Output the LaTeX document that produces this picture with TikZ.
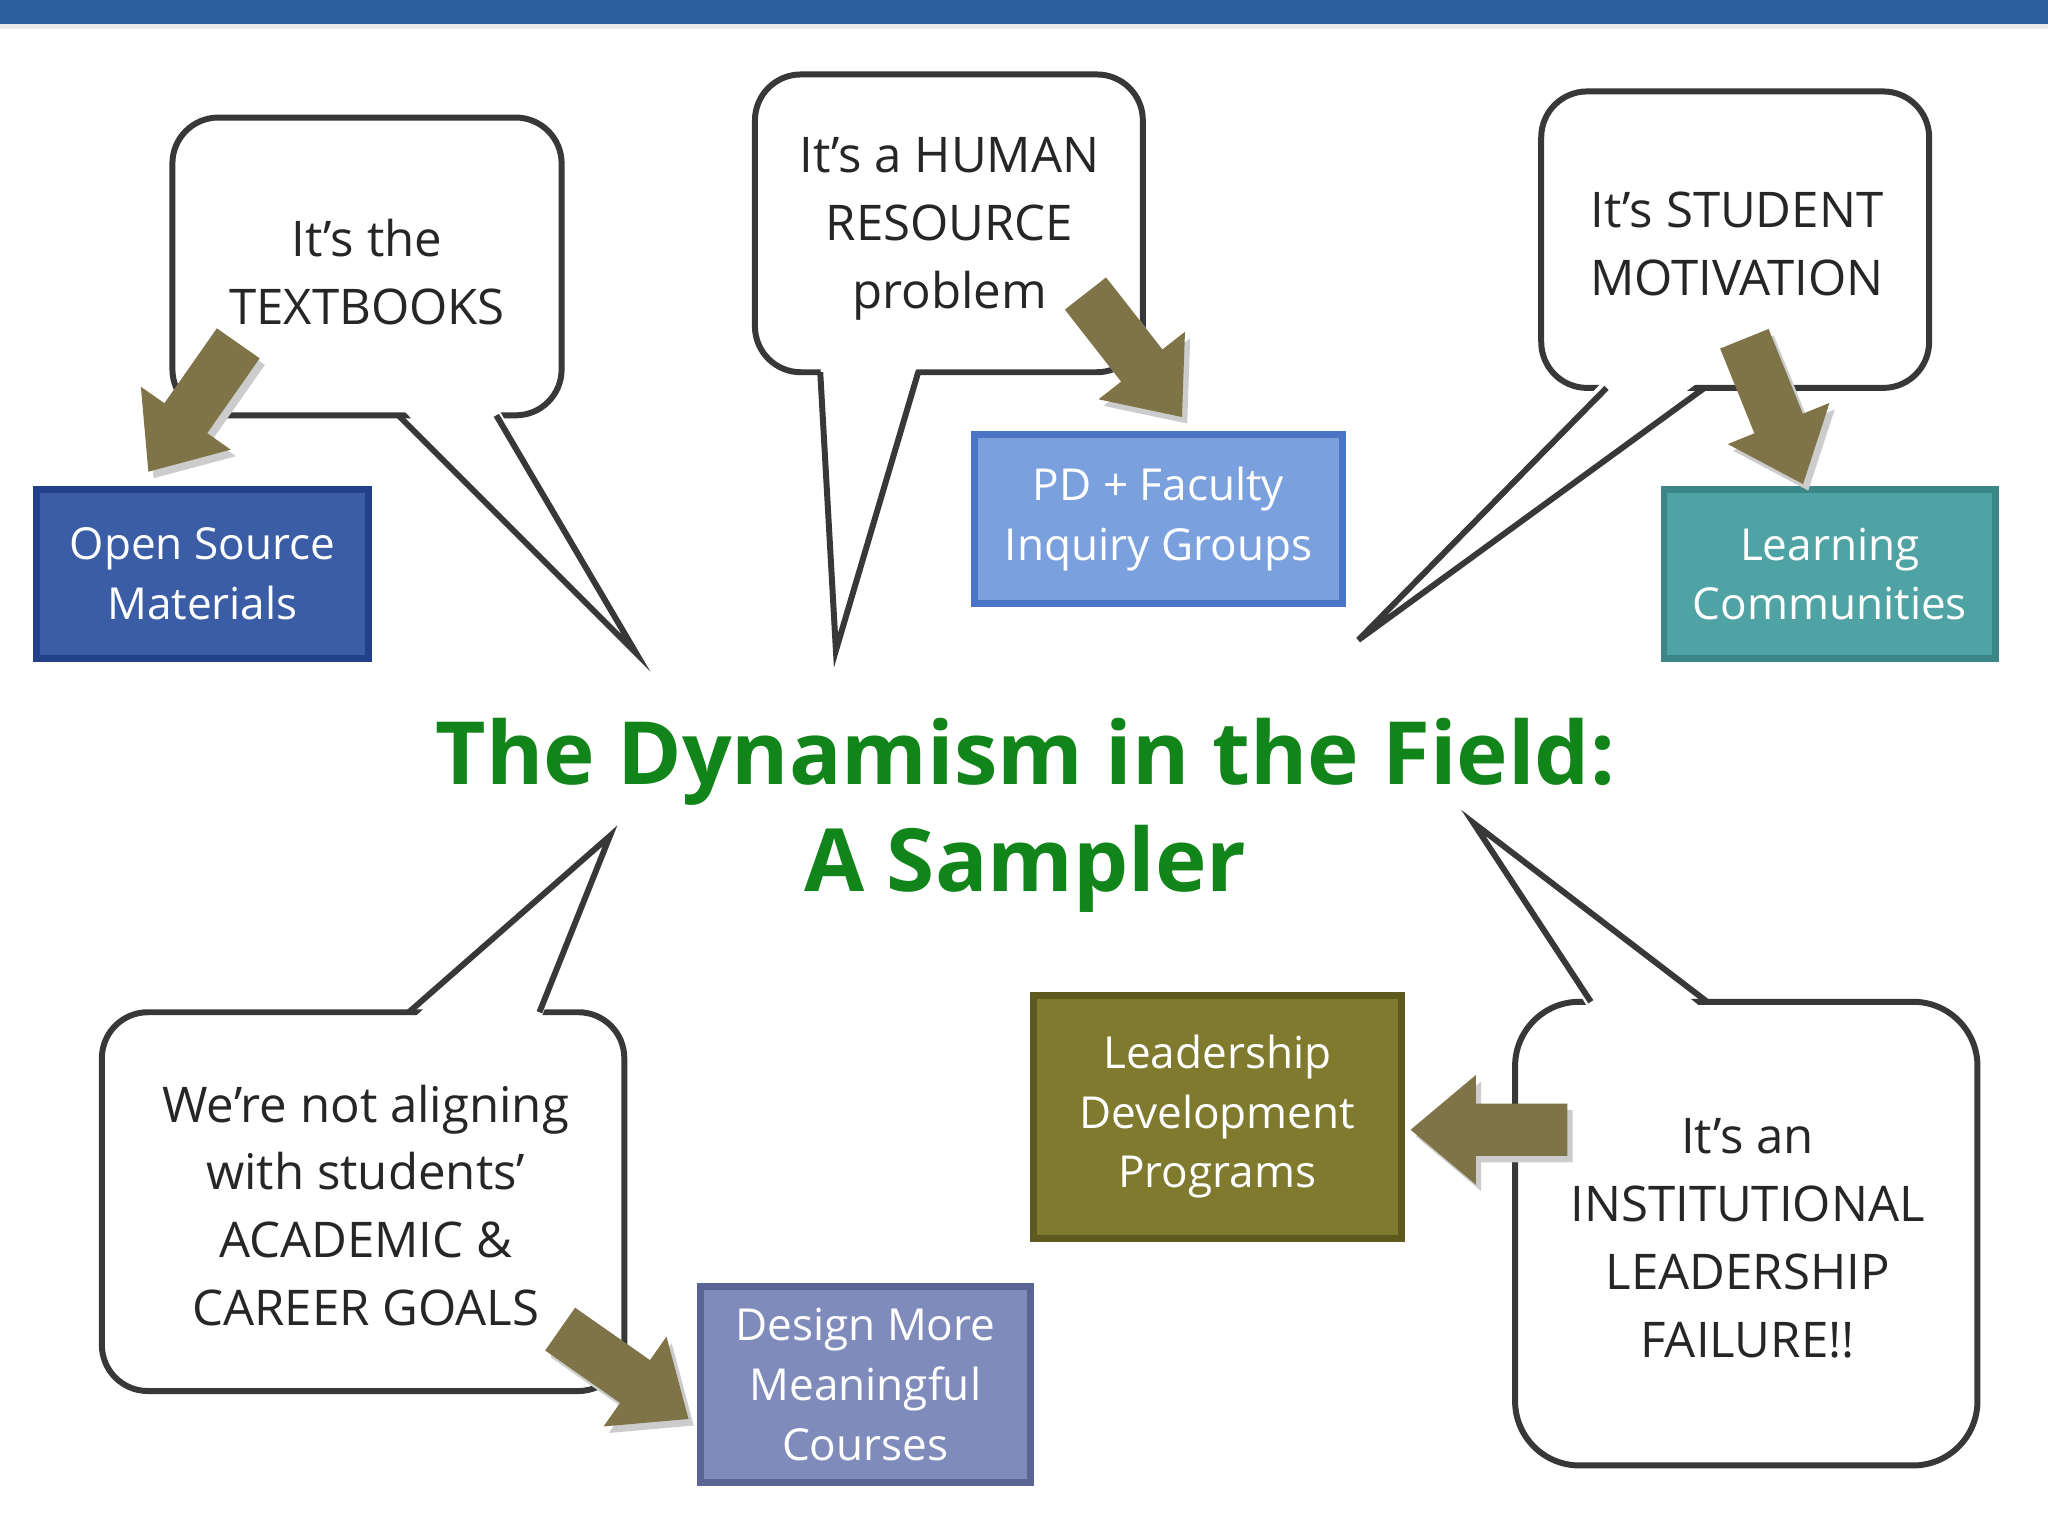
\documentclass[tikz,border=0pt]{standalone}
\usepackage{fontspec}
\setmainfont{Open Sans}
\definecolor{bar}{HTML}{2A5FA0}
\definecolor{olive}{HTML}{7F7448}
\definecolor{ttl}{HTML}{12851A}
\definecolor{c1}{HTML}{3A5DA6}\definecolor{d1}{HTML}{23418A}
\definecolor{c2}{HTML}{7BA0DE}\definecolor{d2}{HTML}{4B74C4}
\definecolor{c3}{HTML}{4FA3A5}\definecolor{d3}{HTML}{3A8688}
\definecolor{c4}{HTML}{7F7A2E}\definecolor{d4}{HTML}{5E5A1E}
\definecolor{c5}{HTML}{7F8BBA}\definecolor{d5}{HTML}{5A6596}
\begin{document}
\begin{tikzpicture}[x=0.01cm,y=-0.01cm,
 bub/.style={draw=black!78,line width=1.3pt,fill=white,rounded corners=10pt},
 tail/.style={draw=black!78,line width=1.3pt,line join=miter},
 txt/.style={align=center,font=\fontsize{10.7}{14.8}\selectfont,text=black!85},
 box/.style={line width=1.5pt,align=center,text=white,font=\fontsize{9.6}{13}\selectfont,inner sep=0pt}]
\useasboundingbox (0,0) rectangle (1568,1176);
\fill[bar] (0,0) rectangle (1568,18);
\fill[black!8] (0,18) rectangle (1568,22);
% callouts
\draw[bub] (132,90) rectangle (430,318);
\fill[white] (305,310) -- (487,500) -- (380,310) -- cycle;
\draw[tail] (305,318) -- (487,500) -- (380,318);
\draw[bub] (578,57) rectangle (875,285);
\fill[white] (628,277) -- (640,498) -- (703,277) -- cycle;
\draw[tail] (628,285) -- (640,498) -- (703,285);
\draw[bub] (1180,70) rectangle (1477,297);
\fill[white] (1230,289) -- (1040,490) -- (1305,289) -- cycle;
\draw[tail] (1230,297) -- (1040,490) -- (1305,297);
\draw[bub] (78,775) rectangle (478,1065);
\fill[white] (313,783) -- (467,640) -- (413,783) -- cycle;
\draw[tail] (313,775) -- (467,640) -- (413,775);
\draw[bub,rounded corners=14pt] (1160,767) rectangle (1514,1122);
\fill[white] (1218,775) -- (1128,630) -- (1307,775) -- cycle;
\draw[tail] (1218,767) -- (1128,630) -- (1307,767);
\node[txt] (t1) at (281,208) {It’s the\\TEXTBOOKS};
\node[txt] (t2) at (727,175) {It’s a HUMAN\\RESOURCE\\problem};
\node[txt] (t3) at (1330,187) {It’s STUDENT\\MOTIVATION};
\node[txt] (t4) at (280,923) {We’re not aligning\\with students’\\ACADEMIC \&\\CAREER GOALS};
\node[txt] (t5) at (1338,948) {It’s an\\INSTITUTIONAL\\LEADERSHIP\\FAILURE!!};
% boxes
\draw[box,fill=c1,draw=d1] (28,375) rectangle node (b1) {Open Source\\Materials} (282,504);
\draw[box,fill=c2,draw=d2] (746,333) rectangle node (b2) {PD + Faculty\\Inquiry Groups} (1028,462);
\draw[box,fill=c3,draw=d3] (1274,375) rectangle node (b3) {Learning\\Communities} (1528,504);
\draw[box,fill=c4,draw=d4] (791,762) rectangle node (b4) {Leadership\\Development\\Programs} (1073,948);
\draw[box,fill=c5,draw=d5] (536,985) rectangle node (b5) {Design More\\Meaningful\\Courses} (789,1135);
% arrows
\foreach \x/\y/\r in {148/312/235, 868/272/-52, 1358/315/-68, 1140/865/180, 478/1052/-35}{
  \fill[black!20,shift={(\x+4,\y+5)},rotate=\r] (-60,-20) -- (10,-20) -- (10,-42) -- (60,0) -- (10,42) -- (10,20) -- (-60,20) -- cycle;
  \fill[olive,shift={(\x,\y)},rotate=\r] (-60,-20) -- (10,-20) -- (10,-42) -- (60,0) -- (10,42) -- (10,20) -- (-60,20) -- cycle;
}
% title
\node[align=center,text=ttl,font=\fontsize{19}{23.3}\selectfont\bfseries] (title) at (785,624) {The Dynamism in the Field:\\A Sampler};
\end{tikzpicture}
\end{document}
